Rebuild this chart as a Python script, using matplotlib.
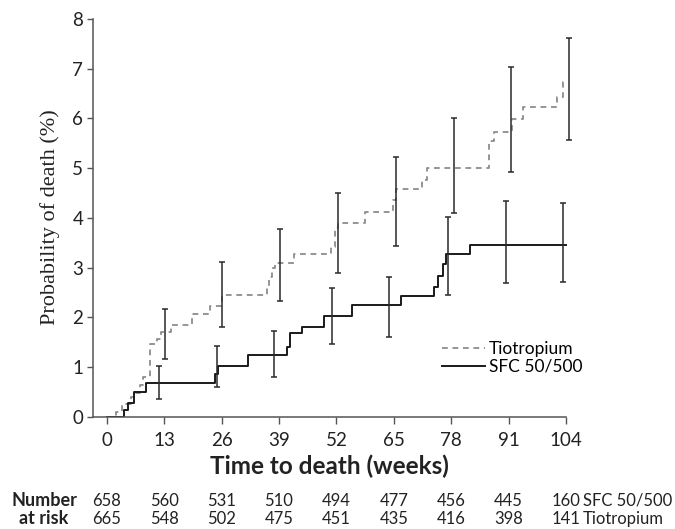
import numpy as np
import matplotlib
matplotlib.use("Agg")
import matplotlib.pyplot as plt

# Kaplan-Meier style steps (weeks, % dead)
sfc_t = [0, 4.0, 4.8, 6.1, 9.0, 24.5, 25.2, 32.0, 40.9, 41.6, 44.1, 49.3, 55.5, 66.6, 74.0, 74.9, 76.1, 76.7, 82.3, 104]
sfc_p = [0, 0.14, 0.28, 0.50, 0.67, 0.86, 1.02, 1.25, 1.40, 1.68, 1.80, 2.02, 2.24, 2.42, 2.61, 2.83, 3.08, 3.27, 3.46, 3.46]

tio_t = [0, 2.0, 3.4, 5.5, 6.3, 7.5, 8.3, 9.8, 11.3, 12.4, 14.6, 19.4, 23.4, 26.0, 36.2, 36.8, 37.4, 38.2,
         42.4, 50.7, 51.7, 52.4, 58.5, 64.9, 65.5, 71.3, 72.6, 86.6, 87.7, 91.7, 94.3, 101.9, 103.4, 104]
tio_p = [0, 0.10, 0.25, 0.40, 0.47, 0.64, 0.80, 1.47, 1.57, 1.70, 1.84, 2.07, 2.23, 2.45, 2.62, 2.82, 3.00, 3.10,
         3.27, 3.42, 3.79, 3.89, 4.12, 4.36, 4.59, 4.76, 5.00, 5.55, 5.73, 5.98, 6.22, 6.44, 6.74, 6.74]

# error bars
sfc_bar_t = [11.8, 24.9, 37.8, 51.0, 64.0, 77.2, 90.4, 103.2]
sfc_bar_mid = [0.66, 1.02, 1.25, 2.02, 2.24, 3.27, 3.46, 3.46]
sfc_bar_lo = [0.35, 0.59, 0.80, 1.46, 1.60, 2.44, 2.68, 2.70]
sfc_bar_hi = [1.01, 1.42, 1.72, 2.58, 2.80, 4.02, 4.33, 4.29]

tio_bar_t = [13.2, 26.1, 39.2, 52.4, 65.4, 78.6, 91.5, 104.7]
tio_bar_mid = [1.70, 2.45, 3.10, 3.89, 4.59, 5.00, 5.98, 6.74]
tio_bar_lo = [1.17, 1.80, 2.32, 2.90, 3.43, 4.09, 4.93, 5.57]
tio_bar_hi = [2.16, 3.11, 3.78, 4.49, 5.22, 6.00, 7.04, 7.61]

# number at risk
risk_weeks = [0, 13, 26, 39, 52, 65, 78, 91, 104]
risk_sfc = [658, 560, 531, 510, 494, 477, 456, 445, 160]
risk_tio = [665, 548, 502, 475, 451, 435, 416, 398, 141]

sans = "Lato"
ink = "#222222"

fig = plt.figure(figsize=(6.75, 5.29), dpi=100)
ax = fig.add_axes([0.1378, 0.2123, 0.714, 0.7518])

l_tio, = ax.step(tio_t, tio_p, where="post", color="#8c8c8c", lw=1.3,
                 linestyle=(0, (3.2, 2.6)), label="Tiotropium")
l_sfc, = ax.step(sfc_t, sfc_p, where="post", color="#1a1a1a", lw=1.4, label="SFC 50/500")

for bt, bm, blo, bhi in [(sfc_bar_t, sfc_bar_mid, sfc_bar_lo, sfc_bar_hi),
                         (tio_bar_t, tio_bar_mid, tio_bar_lo, tio_bar_hi)]:
    bm = np.array(bm)
    yerr = [bm - np.array(blo), np.array(bhi) - bm]
    ax.errorbar(bt, bm, yerr=yerr, fmt="none", ecolor="#2a2a2a", elinewidth=1.1,
                capsize=2.2, capthick=1.1, clip_on=False)

ax.set_xlim(-3.1, 106)
ax.set_ylim(0, 8)
ax.spines["top"].set_visible(False)
ax.spines["right"].set_visible(False)
ax.spines["bottom"].set_bounds(-3.1, 104)
for s in ["left", "bottom"]:
    ax.spines[s].set_color("#555555")
    ax.spines[s].set_linewidth(1.1)

ax.set_xticks(risk_weeks)
ax.set_yticks(range(0, 9))
ax.tick_params(axis="x", direction="out", length=5, width=1.0, color="#555555", pad=6,
               labelsize=13.5, labelcolor=ink)
ax.tick_params(axis="y", direction="out", length=4, width=1.0, color="#555555", pad=3,
               labelsize=13.5, labelcolor=ink)
for lab in ax.get_xticklabels() + ax.get_yticklabels():
    lab.set_fontfamily(sans)

ax.set_xlabel("Time to death (weeks)", fontsize=17.5, fontweight="bold", family=sans, color=ink)
ax.xaxis.set_label_coords(0.49, -0.1257)
ax.xaxis.label.set_va("center")
ax.set_ylabel("Probability of death (%)", fontsize=16, family="Liberation Serif", color=ink)
ax.yaxis.set_label_coords(-0.089, 0.503)
ax.yaxis.label.set_va("center")

ax.legend(handles=[l_tio, l_sfc], loc="center left", bbox_to_anchor=(0.7234, 0.1476),
          frameon=False, prop={"family": sans, "size": 12.5}, handlelength=2.5,
          handletextpad=0.2, labelspacing=0.1, borderpad=0, borderaxespad=0)

# number at risk table
trans = matplotlib.transforms.blended_transform_factory(ax.transData, fig.transFigure)
y1, y2 = 0.0435, 0.0095
fig.text(44 / 675, y1, "Number", ha="center", va="baseline", fontsize=13,
         fontweight="bold", family=sans, color=ink)
fig.text(44 / 675, y2, "at risk", ha="center", va="baseline", fontsize=13,
         fontweight="bold", family=sans, color=ink)
for w, a, b in zip(risk_weeks, risk_sfc, risk_tio):
    ax.text(w, y1, str(a), transform=trans, ha="center", va="baseline", fontsize=12,
            family=sans, color=ink)
    ax.text(w, y2, str(b), transform=trans, ha="center", va="baseline", fontsize=12,
            family=sans, color=ink)
ax.text(107.8, y1, "SFC 50/500", transform=trans, ha="left", va="baseline", fontsize=12,
        family=sans, color=ink)
ax.text(107.8, y2, "Tiotropium", transform=trans, ha="left", va="baseline", fontsize=12,
        family=sans, color=ink)

fig.savefig("out.png", dpi=100)
